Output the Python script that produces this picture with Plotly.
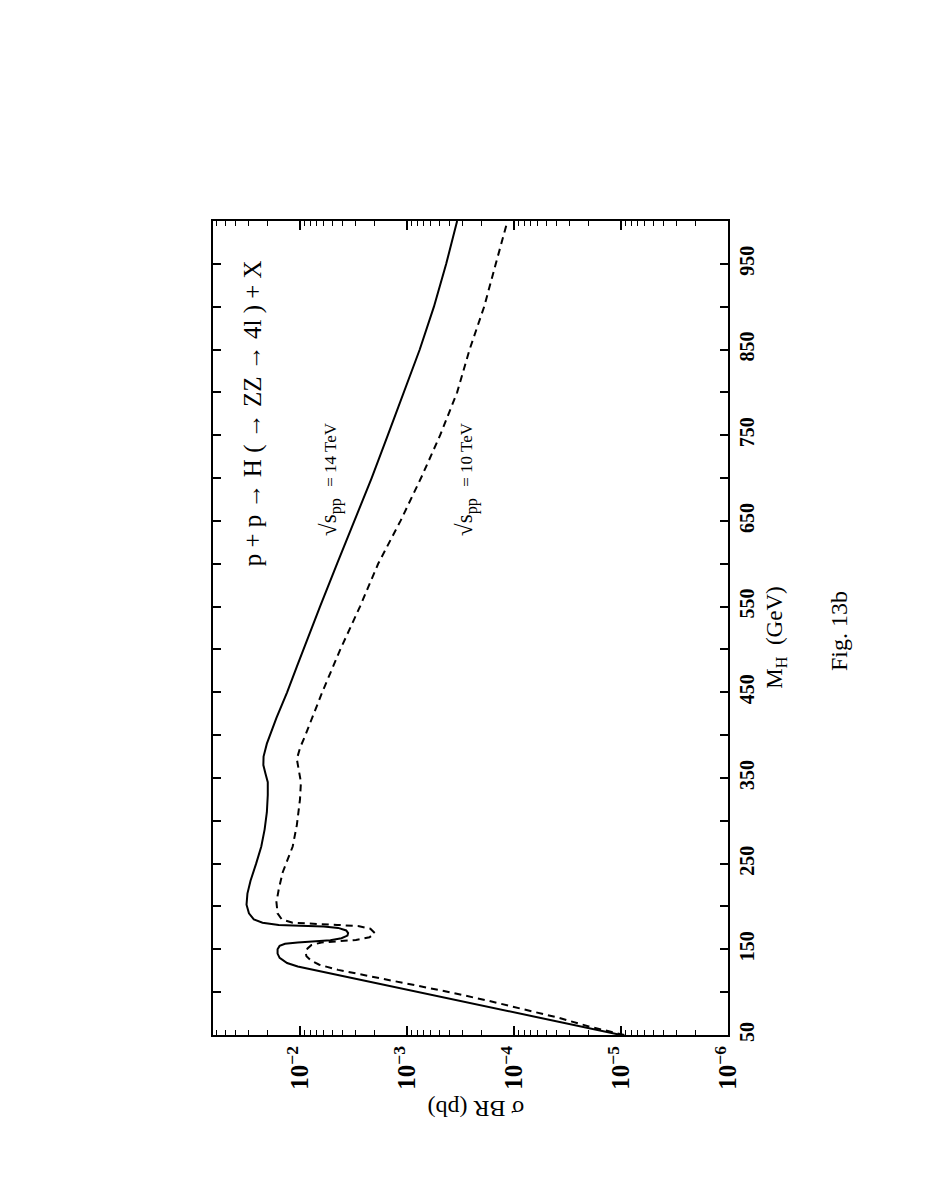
import plotly.graph_objects as go

# Higgs mass (GeV) and sigma*BR (pb), sqrt(s)=14 TeV (solid)
m_14 = [50, 60, 70, 80, 90, 100, 110, 120, 126, 130, 134, 140, 145, 150, 154, 156.5, 158, 159,
        160.5, 163, 166, 169, 172, 175, 176.5, 177.5, 178.5, 181, 185, 192, 202, 215, 230, 250,
        270, 290, 310, 330, 345, 355, 365, 375, 390, 420, 450, 480, 520, 550, 600, 650, 700,
        750, 800, 850, 900, 950, 1000]
sig_14 = [1.0e-5, 2.4e-5, 5.8e-5, 1.38e-4, 3.3e-4, 7.9e-4, 1.9e-3, 4.6e-3, 7.6e-3, 1.05e-2,
          1.32e-2, 1.55e-2, 1.62e-2, 1.62e-2, 1.55e-2, 1.38e-2, 1.05e-2, 7.6e-3, 5.2e-3, 4.1e-3,
          3.6e-3, 3.55e-3, 3.7e-3, 4.4e-3, 6.0e-3, 1.0e-2, 1.58e-2, 2.24e-2, 2.7e-2, 3.0e-2,
          3.16e-2, 3.1e-2, 2.9e-2, 2.57e-2, 2.3e-2, 2.14e-2, 2.04e-2, 2.0e-2, 2.0e-2, 2.1e-2,
          2.2e-2, 2.19e-2, 2.04e-2, 1.66e-2, 1.32e-2, 1.07e-2, 8.1e-3, 6.5e-3, 4.5e-3, 3.1e-3,
          2.14e-3, 1.51e-3, 1.07e-3, 7.6e-4, 5.6e-4, 4.3e-4, 3.4e-4]

# sqrt(s)=10 TeV (dashed)
m_10 = [50, 60, 70, 80, 90, 100, 110, 120, 126, 132, 137, 142, 147, 151, 155, 158, 159.5, 161,
        164, 169, 174, 177, 178.5, 179.5, 181, 185, 192, 205, 220, 240, 270, 295, 325, 345, 360,
        372, 385, 400, 450, 500, 550, 600, 650, 700, 750, 800, 850, 900, 950, 1000]
sig_10 = [9.3e-6, 2.0e-5, 3.8e-5, 7.9e-5, 1.74e-4, 4.0e-4, 1.0e-3, 2.6e-3, 4.4e-3, 6.6e-3,
          7.9e-3, 8.7e-3, 8.9e-3, 8.5e-3, 7.8e-3, 6.3e-3, 4.5e-3, 3.0e-3, 2.24e-3, 2.0e-3,
          2.2e-3, 2.8e-3, 4.5e-3, 7.6e-3, 1.17e-2, 1.48e-2, 1.62e-2, 1.66e-2, 1.58e-2, 1.45e-2,
          1.17e-2, 1.07e-2, 1.0e-2, 9.8e-3, 1.02e-2, 1.07e-2, 1.0e-2, 8.9e-3, 6.2e-3, 4.2e-3,
          2.75e-3, 1.86e-3, 1.15e-3, 7.4e-4, 4.9e-4, 3.4e-4, 2.6e-4, 1.9e-4, 1.48e-4, 1.15e-4]

SERIF = "Liberation Serif, Times New Roman, serif"

fig = go.Figure()
fig.add_trace(go.Scatter(x=sig_14, y=m_14, mode="lines",
                         line=dict(color="black", width=2), showlegend=False))
fig.add_trace(go.Scatter(x=sig_10, y=m_10, mode="lines",
                         line=dict(color="black", width=2, dash="7px,5px"), showlegend=False))

tickfont = dict(family=SERIF, size=20, color="black", weight="bold")

fig.update_xaxes(type="log", range=[-1.187, -6.0], tick0=0, dtick=1,
                 exponentformat="power", tickangle=-90, tickfont=tickfont,
                 ticks="inside", ticklen=9, tickwidth=1.5, tickcolor="black",
                 minor=dict(ticks="inside", ticklen=5, tickwidth=1.2, tickcolor="black", dtick="D1"),
                 showline=True, linewidth=2, linecolor="black", mirror="ticks",
                 showgrid=False, zeroline=False, ticklabelstandoff=0)
fig.update_yaxes(range=[50, 1000], side="right", tick0=50, dtick=100,
                 tickangle=-90, tickfont=tickfont,
                 ticks="inside", ticklen=8, tickwidth=1.5, tickcolor="black",
                 minor=dict(ticks="inside", ticklen=8, tickwidth=1.5, tickcolor="black", dtick=50),
                 showline=True, linewidth=2, linecolor="black", mirror="ticks",
                 showgrid=False, zeroline=False, ticklabelstandoff=0)

def ann(text, x, y, angle, size, **kw):
    fig.add_annotation(text=text, x=x, y=y, xref="paper", yref="paper", showarrow=False,
                       textangle=angle, xanchor="center", yanchor="middle",
                       font=dict(family=SERIF, size=size, color="black"), **kw)

ann("p + p → H ( → ZZ → 4l ) + X", 0.078, 0.764, -90, 25)
ann("√s<sub>pp</sub>  <span style='font-size:17px'>= 14 TeV</span>", 0.227, 0.683, -90, 23)
ann("√s<sub>pp</sub>  <span style='font-size:17px'>= 10 TeV</span>", 0.491, 0.683, -90, 23)
ann("M<sub>H</sub>  (GeV)", 1.093, 0.488, -90, 23)
ann("Fig. 13b", 1.217, 0.496, -90, 24)
ann("σ BR (pb)", 0.511, -0.091, 180, 24)

fig.update_layout(width=927, height=1199, autosize=False,
                  margin=dict(l=205, r=207, t=213, b=172),
                  paper_bgcolor="white", plot_bgcolor="white")

fig.write_html("out.html")
